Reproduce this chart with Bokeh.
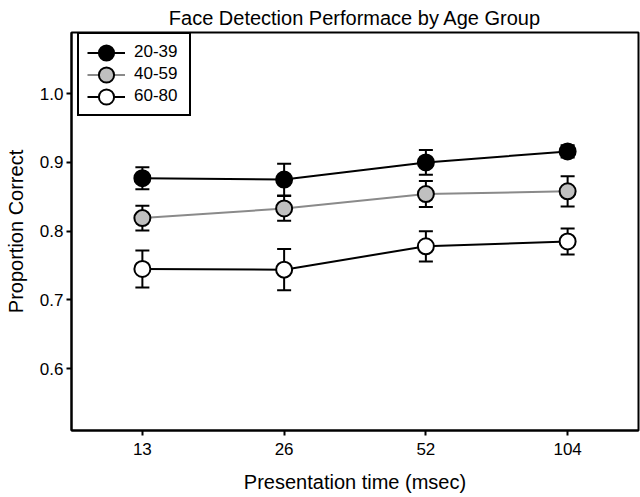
from bokeh.plotting import figure
from bokeh.models import (ColumnDataSource, FixedTicker, Range1d, Whisker, TeeHead,
                          Legend, LegendItem, NumeralTickFormatter)
from bokeh.embed import file_html
from bokeh.resources import INLINE

# ---- data ----
times = ["13", "26", "52", "104"]
groups = ["20-39", "40-59", "60-80"]
mean_20_39 = [0.877, 0.875, 0.900, 0.916]
err_20_39 = [0.016, 0.023, 0.018, 0.009]
mean_40_59 = [0.819, 0.833, 0.854, 0.858]
err_40_59 = [0.018, 0.018, 0.019, 0.022]
mean_60_80 = [0.745, 0.744, 0.778, 0.785]
err_60_80 = [0.027, 0.030, 0.022, 0.019]
y_ticks = [0.6, 0.7, 0.8, 0.9, 1.0]

FONT = "Liberation Sans"

p = figure(width=640, height=497, output_backend="svg", toolbar_location=None,
           x_range=Range1d(-0.5, 3.5), y_range=Range1d(0.51, 1.089),
           min_border_left=71, min_border_right=2, min_border_top=32, min_border_bottom=67,
           title="Face Detection Performace by Age Group")

p.title.text_font = FONT
p.title.text_font_size = "20px"
p.title.text_font_style = "normal"
p.title.text_color = "black"
p.title.align = "center"
p.title.standoff = 8

p.grid.grid_line_color = None
p.outline_line_color = "black"
p.outline_line_width = 2
p.outline_line_alpha = 1

xs = list(range(len(times)))
p.xaxis.ticker = FixedTicker(ticks=xs, minor_ticks=[])
p.xaxis.major_label_overrides = {i: t for i, t in enumerate(times)}
p.yaxis.ticker = FixedTicker(ticks=y_ticks, minor_ticks=[])
p.yaxis.formatter = NumeralTickFormatter(format="0.0")

p.xaxis.axis_label = "Presentation time (msec)"
p.yaxis.axis_label = "Proportion Correct"
for ax in (p.xaxis[0], p.yaxis[0]):
    ax.axis_line_width = 2
    ax.axis_line_color = "black"
    ax.major_tick_out = 5
    ax.major_tick_in = 0
    ax.major_tick_line_width = 2
    ax.major_tick_line_color = "black"
    ax.minor_tick_line_color = None
    ax.major_label_text_font = FONT
    ax.major_label_text_font_size = "17px"
    ax.major_label_text_color = "black"
    ax.axis_label_text_font = FONT
    ax.axis_label_text_font_size = "20px"
    ax.axis_label_text_font_style = "normal"
    ax.axis_label_text_color = "black"
p.xaxis.major_label_standoff = 7
p.xaxis.axis_label_standoff = 13
p.yaxis.major_label_standoff = 3
p.yaxis.axis_label_standoff = 10

series = [
    (groups[0], mean_20_39, err_20_39, "black", "black"),
    (groups[1], mean_40_59, err_40_59, "#c0c0c0", "#8a8a8a"),
    (groups[2], mean_60_80, err_60_80, "white", "black"),
]

items = []
for name, mean, err, fill, lcol in series:
    src = ColumnDataSource(dict(
        x=xs, y=mean,
        upper=[m + e for m, e in zip(mean, err)],
        lower=[m - e for m, e in zip(mean, err)],
    ))
    w = Whisker(source=src, base="x", upper="upper", lower="lower",
                line_width=2, line_color="black",
                upper_head=TeeHead(size=14, line_width=2, line_color="black"),
                lower_head=TeeHead(size=14, line_width=2, line_color="black"))
    p.add_layout(w)
    lr = p.line("x", "y", source=src, line_color=lcol, line_width=2)
    mr = p.ellipse("x", "y", source=src, width=16, height=16,
                   width_units="screen", height_units="screen",
                   fill_color=fill, line_color="black", line_width=2)
    items.append(LegendItem(label=name, renderers=[lr, mr]))

legend = Legend(items=items, location=(6, 314), padding=8, spacing=2,
                glyph_width=38, glyph_height=19, label_standoff=9, label_width=47,
                label_text_font=FONT, label_text_font_size="17px",
                label_text_color="black",
                border_line_color="black", border_line_width=2, border_line_alpha=1,
                background_fill_color="white", background_fill_alpha=1, margin=0)
p.add_layout(legend)

open("out.html", "w").write(file_html(p, INLINE))
